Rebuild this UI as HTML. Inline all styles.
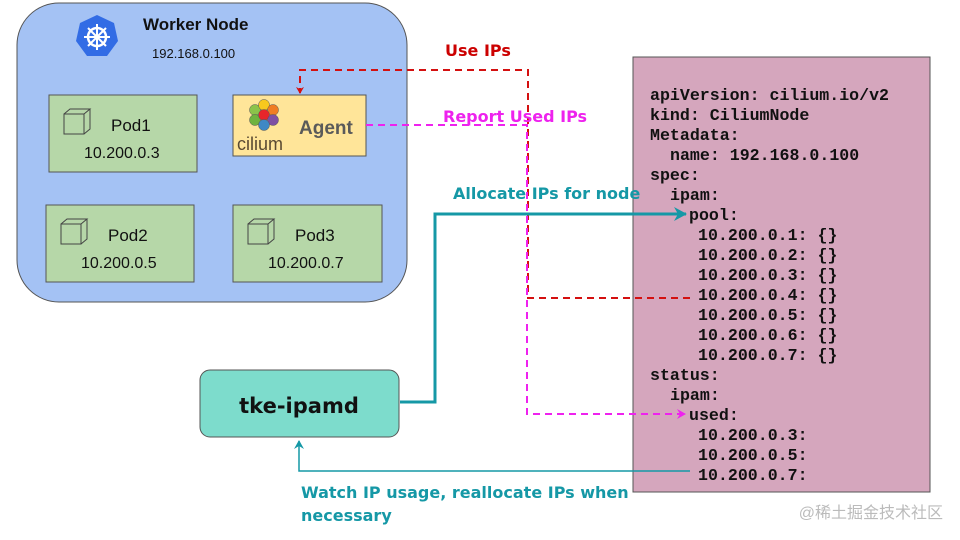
<!DOCTYPE html>
<html><head><meta charset="utf-8"><style>
html,body{margin:0;padding:0;background:#fff;}
svg{display:block;}
.s{font-family:"Liberation Sans",sans-serif;}
.m{font-family:"Liberation Mono",monospace;font-weight:bold;font-size:16.6px;fill:#111;}
.b{font-family:"DejaVu Sans","Liberation Sans",sans-serif;font-weight:bold;}
</style></head><body>
<svg width="960" height="540" viewBox="0 0 960 540">
<defs>
<marker id="ar" markerWidth="8" markerHeight="8" refX="6" refY="4" orient="auto" markerUnits="userSpaceOnUse"><path d="M0,0 L7,4 L0,8 L2,4Z" fill="#d41010"/></marker>
<marker id="am" markerWidth="10" markerHeight="10" refX="8" refY="5" orient="auto" markerUnits="userSpaceOnUse"><path d="M0,0 L9,5 L0,10 L3,5Z" fill="#ee22ee"/></marker>
<marker id="at" markerWidth="14" markerHeight="14" refX="12" refY="7" orient="auto" markerUnits="userSpaceOnUse"><path d="M0,0 L13,7 L0,14 L4,7Z" fill="#1598a6"/></marker>
<marker id="at2" markerWidth="10" markerHeight="10" refX="8" refY="5" orient="auto" markerUnits="userSpaceOnUse"><path d="M0,0 L9,5 L0,10 L3,5Z" fill="#1598a6"/></marker>
</defs>
<!-- worker node -->
<rect x="17" y="3" width="390" height="299" rx="42" fill="#a4c2f4" stroke="#555" stroke-width="1"/>
<polygon points="97,15 114,23 118,41 107,56 87,56 76,41 80,23" fill="#326ce5"/>
<circle cx="97" cy="37" r="9" fill="none" stroke="#fff" stroke-width="2.5"/>
<g stroke="#fff" stroke-width="2"><line x1="97" y1="24" x2="97" y2="50"/><line x1="84" y1="37" x2="110" y2="37"/><line x1="88" y1="28" x2="106" y2="46"/><line x1="106" y1="28" x2="88" y2="46"/></g>
<text x="143" y="30" class="s" font-size="17" font-weight="bold" fill="#111">Worker Node</text>
<text x="152" y="58" class="s" font-size="13" fill="#111">192.168.0.100</text>
<!-- pods -->
<g class="s" font-size="17" fill="#111">
<rect x="49" y="95" width="148" height="77" fill="#b6d7a8" stroke="#555"/>
<rect x="46" y="205" width="148" height="77" fill="#b6d7a8" stroke="#555"/>
<rect x="233" y="205" width="149" height="77" fill="#b6d7a8" stroke="#555"/>
<text x="111" y="131">Pod1</text><text x="84" y="158" font-size="16">10.200.0.3</text>
<text x="108" y="241">Pod2</text><text x="81" y="268" font-size="16">10.200.0.5</text>
<text x="295" y="241">Pod3</text><text x="268" y="268" font-size="16">10.200.0.7</text>
</g>
<g fill="#b6d7a8" stroke="#444" stroke-width="1">
<path d="M64,114 h20 v20 h-20z M64,114 l6,-5 h20 l-6,5 M84,134 l6,-5 v-20"/>
<path d="M61,224 h20 v20 h-20z M61,224 l6,-5 h20 l-6,5 M81,244 l6,-5 v-20"/>
<path d="M248,224 h20 v20 h-20z M248,224 l6,-5 h20 l-6,5 M268,244 l6,-5 v-20"/>
</g>
<!-- agent -->
<rect x="233" y="95" width="133" height="61" fill="#ffe599" stroke="#555"/>
<g stroke="#555" stroke-width="0.5">
<circle cx="255" cy="110" r="5.5" fill="#8bc34a"/><circle cx="264" cy="105" r="5.5" fill="#f8c81e"/><circle cx="273" cy="110" r="5.5" fill="#f07d22"/>
<circle cx="255" cy="120" r="5.5" fill="#6fb33f"/><circle cx="264" cy="115" r="5.5" fill="#e8262b"/><circle cx="273" cy="120" r="5.5" fill="#7e4fa3"/>
<circle cx="264" cy="125" r="5.5" fill="#3f88c5"/>
</g>
<text x="237" y="150" class="s" font-size="18" fill="#5a4a32">cilium</text>
<text x="299" y="134" class="s" font-size="19" font-weight="bold" fill="#5a5a5a">Agent</text>
<!-- pink yaml -->
<rect x="633" y="57" width="297" height="435" fill="#d5a6bd" stroke="#555"/>
<g class="m">
<text x="650" y="100">apiVersion: cilium.io/v2</text>
<text x="650" y="120">kind: CiliumNode</text>
<text x="650" y="140">Metadata:</text>
<text x="670" y="160">name: 192.168.0.100</text>
<text x="650" y="180">spec:</text>
<text x="670" y="200">ipam:</text>
<text x="689" y="220">pool:</text>
<text x="698" y="240">10.200.0.1: {}</text>
<text x="698" y="260">10.200.0.2: {}</text>
<text x="698" y="280">10.200.0.3: {}</text>
<text x="698" y="300">10.200.0.4: {}</text>
<text x="698" y="320">10.200.0.5: {}</text>
<text x="698" y="340">10.200.0.6: {}</text>
<text x="698" y="360">10.200.0.7: {}</text>
<text x="650" y="380">status:</text>
<text x="670" y="400">ipam:</text>
<text x="689" y="420">used:</text>
<text x="698" y="440">10.200.0.3:</text>
<text x="698" y="460">10.200.0.5:</text>
<text x="698" y="480">10.200.0.7:</text>
</g>
<!-- tke-ipamd -->
<rect x="200" y="370" width="199" height="67" rx="10" fill="#7ddccc" stroke="#555"/>
<text x="299" y="413" text-anchor="middle" class="b" font-size="21" fill="#111">tke-ipamd</text>
<!-- red dashed -->
<path d="M690,298 H528 V70 H300 V93" fill="none" stroke="#d41010" stroke-width="2" stroke-dasharray="7,5" marker-end="url(#ar)"/>
<!-- magenta dashed -->
<path d="M366,125 H527 V414 H685" fill="none" stroke="#ee22ee" stroke-width="2" stroke-dasharray="7,5" marker-end="url(#am)"/>
<!-- teal -->
<path d="M400,402 H435 V214 H686" fill="none" stroke="#1598a6" stroke-width="3" marker-end="url(#at)"/>
<path d="M690,471 H299 V441" fill="none" stroke="#1598a6" stroke-width="1.5" marker-end="url(#at2)"/>
<!-- labels -->
<text x="445" y="56" class="b" font-size="16" fill="#cc0000">Use IPs</text>
<text x="443" y="122" class="b" font-size="16" fill="#ee22ee">Report Used IPs</text>
<text x="453" y="199" class="b" font-size="16" fill="#1598a6">Allocate IPs for node</text>
<text x="301" y="498" class="b" font-size="16" fill="#1598a6">Watch IP usage, reallocate IPs when</text>
<text x="301" y="521" class="b" font-size="16" fill="#1598a6">necessary</text>
<text x="943" y="518" text-anchor="end" font-family="'Liberation Sans','Noto Sans CJK SC',sans-serif" font-size="16" fill="#bbb">@稀土掘金技术社区</text>
</svg>
</body></html>
